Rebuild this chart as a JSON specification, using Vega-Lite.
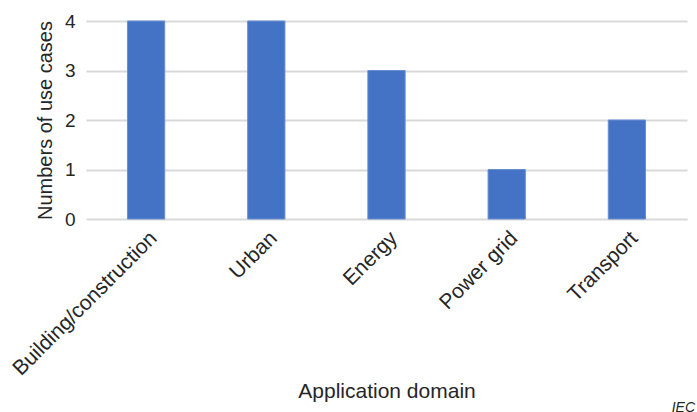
{
  "$schema": "https://vega.github.io/schema/vega-lite/v6.json",
  "autosize": "none",
  "width": 601,
  "height": 198,
  "padding": {"left": 86, "top": 21, "right": 10, "bottom": 193},
  "background": "white",
  "config": {
    "font": "Liberation Sans",
    "view": {"stroke": null},
    "axis": {"labelFont": "Liberation Sans", "titleFont": "Liberation Sans", "labelColor": "#262626", "titleColor": "#262626", "titleFontWeight": "normal"}
  },
  "title": {
    "text": "IEC",
    "orient": "bottom",
    "anchor": "end",
    "fontStyle": "italic",
    "fontWeight": "normal",
    "fontSize": 14,
    "color": "#262626",
    "offset": -1,
    "dx": 8
  },
  "data": {
    "values": [
      {"domain": "Building/construction", "count": 4},
      {"domain": "Urban", "count": 4},
      {"domain": "Energy", "count": 3},
      {"domain": "Power grid", "count": 1},
      {"domain": "Transport", "count": 2}
    ]
  },
  "mark": {"type": "bar", "color": "#4472C4", "stroke": "#6a8fd0", "strokeWidth": 1},
  "encoding": {
    "x": {
      "field": "domain",
      "type": "nominal",
      "sort": null,
      "scale": {"paddingInner": 0.69, "paddingOuter": 0.345},
      "axis": {
        "title": "Application domain",
        "labelAngle": -45,
        "labelFontSize": 21,
        "labelLimit": 400,
        "titleFontSize": 21,
        "labelPadding": 8,
        "titlePadding": 2,
        "ticks": false,
        "domain": false
      }
    },
    "y": {
      "field": "count",
      "type": "quantitative",
      "scale": {"domain": [0, 4]},
      "axis": {
        "title": "Numbers of use cases",
        "values": [0, 1, 2, 3, 4],
        "labelFontSize": 19,
        "titleFontSize": 20,
        "labelPadding": 11,
        "titlePadding": 9,
        "ticks": false,
        "domain": false,
        "gridColor": "#d9d9d9",
        "gridWidth": 2
      }
    }
  }
}
